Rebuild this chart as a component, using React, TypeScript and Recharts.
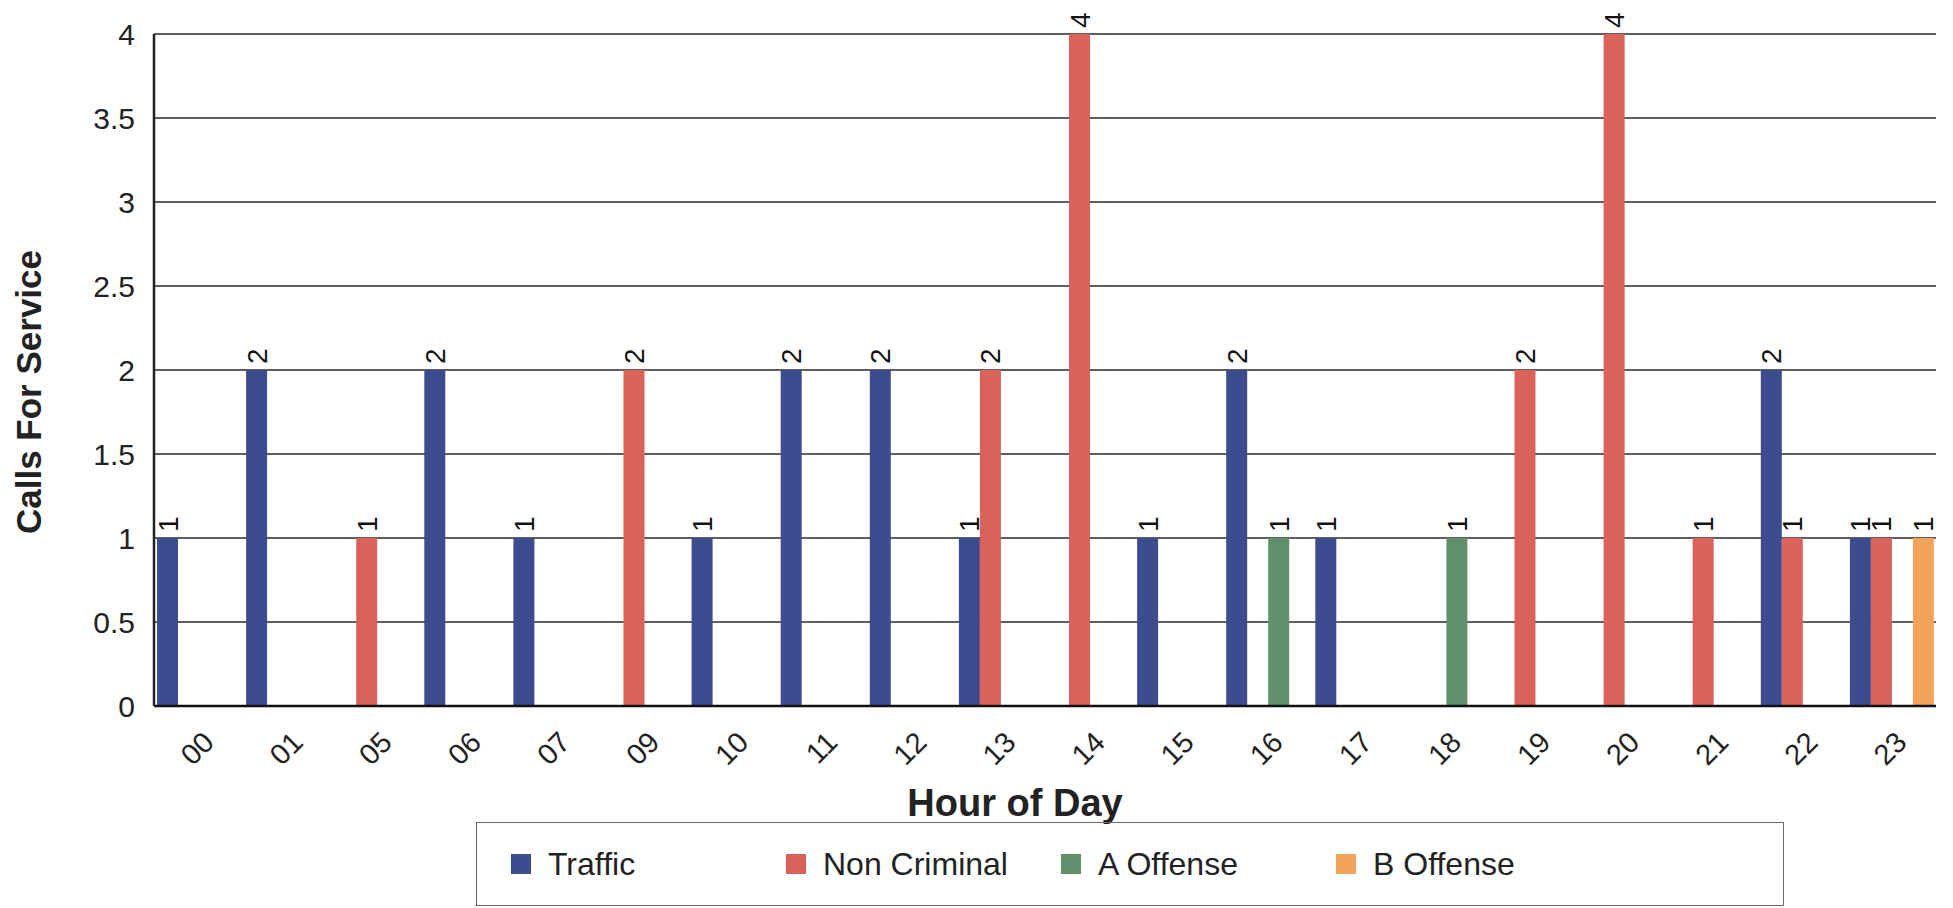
import React from 'react';
import {
  BarChart,
  Bar,
  XAxis,
  YAxis,
  CartesianGrid,
  LabelList,
  Label,
} from 'recharts';

// hours that had at least one call
const hours = ['00', '01', '05', '06', '07', '09', '10', '11', '12', '13', '14', '15', '16', '17', '18', '19', '20', '21', '22', '23'];

const traffic = [1, 2, null, 2, 1, null, 1, 2, 2, 1, null, 1, 2, 1, null, null, null, null, 2, 1];
const nonCriminal = [null, null, 1, null, null, 2, null, null, null, 2, 4, null, null, null, null, 2, 4, 1, 1, 1];
const aOffense = [null, null, null, null, null, null, null, null, null, null, null, null, 1, null, 1, null, null, null, null, null];
const bOffense = [null, null, null, null, null, null, null, null, null, null, null, null, null, null, null, null, null, null, null, 1];

const yTicks = [0, 0.5, 1, 1.5, 2, 2.5, 3, 3.5, 4];

const seriesNames = ['Traffic', 'Non Criminal', 'A Offense', 'B Offense'];
const seriesKeys = ['traffic', 'nonCriminal', 'aOffense', 'bOffense'];
const seriesColors = ['#3d4c8e', '#db625b', '#62906a', '#f2a35b'];

const data = hours.map((hour, i) => ({
  hour,
  traffic: traffic[i],
  nonCriminal: nonCriminal[i],
  aOffense: aOffense[i],
  bOffense: bOffense[i],
}));

const FONT = '"Liberation Sans", Arial, Helvetica, sans-serif';

const HourTick = (props: any) => {
  const { x, y, payload } = props;
  return (
    <g transform={`translate(${x + 17},${y + 38})`}>
      <text x={0} y={0} transform="rotate(-45)" textAnchor="end" fontSize={29} fill="#222">
        {payload.value}
      </text>
    </g>
  );
};

const ValueLabel = (props: any) => {
  const { value } = props;
  if (value === null || value === undefined) return null;
  const cx = Number(props.x) + Number(props.width) / 2;
  const ty = Number(props.y) - 6;
  return (
    <text
      x={cx}
      y={ty}
      dy="0.36em"
      transform={`rotate(-90, ${cx}, ${ty})`}
      textAnchor="start"
      fontSize={28}
      fill="#111"
    >
      {value}
    </text>
  );
};

const YTitle = (props: any) => {
  const vb = props.viewBox;
  const cx = vb.x + 28;
  const cy = vb.y + vb.height / 2 + 22;
  return (
    <text
      x={cx}
      y={cy}
      dy="0.36em"
      transform={`rotate(-90, ${cx}, ${cy})`}
      textAnchor="middle"
      fontSize={35}
      fontWeight="bold"
      fill="#222"
    >
      Calls For Service
    </text>
  );
};

const XTitle = (props: any) => {
  const vb = props.viewBox;
  return (
    <text
      x={vb.x + vb.width / 2 - 30}
      y={vb.y + 110}
      textAnchor="middle"
      fontSize={38}
      fontWeight="bold"
      fill="#222"
    >
      Hour of Day
    </text>
  );
};

export default function App() {
  return (
    <div
      style={{
        position: 'absolute',
        left: 0,
        top: 0,
        width: 1953,
        height: 908,
        background: '#fff',
        fontFamily: FONT,
      }}
    >
      <BarChart
        width={1953}
        height={908}
        data={data}
        margin={{ top: 34, right: 17, bottom: 0, left: 0 }}
        barGap={0}
        barSize={21}
      >
        <CartesianGrid vertical={false} stroke="#2a2a2a" strokeWidth={1.5} />
        <XAxis
          dataKey="hour"
          height={202}
          tickLine={false}
          tickSize={0}
          tickMargin={0}
          interval={0}
          axisLine={{ stroke: '#111', strokeWidth: 2.5 }}
          tick={<HourTick />}
        >
          <Label content={<XTitle />} />
        </XAxis>
        <YAxis
          width={154}
          domain={[0, 4]}
          ticks={yTicks}
          tickLine={false}
          tickSize={0}
          tickMargin={19}
          axisLine={{ stroke: '#222', strokeWidth: 2.5 }}
          tick={{ fontSize: 30, fill: '#222' }}
        >
          <Label content={<YTitle />} />
        </YAxis>
        {seriesKeys.map((key, i) => (
          <Bar key={key} dataKey={key} name={seriesNames[i]} fill={seriesColors[i]} isAnimationActive={false}>
            <LabelList dataKey={key} content={<ValueLabel />} />
          </Bar>
        ))}
      </BarChart>

      <div
        style={{
          position: 'absolute',
          left: 476,
          top: 822,
          width: 1308,
          height: 84,
          boxSizing: 'border-box',
          border: '1.5px solid #666',
          display: 'flex',
          alignItems: 'center',
          paddingLeft: 34,
        }}
      >
        {seriesNames.map((name, i) => (
          <div key={name} style={{ width: 275, display: 'flex', alignItems: 'center' }}>
            <span
              style={{
                display: 'inline-block',
                width: 20,
                height: 20,
                background: seriesColors[i],
                marginRight: 17,
              }}
            />
            <span style={{ fontSize: 32, color: '#222' }}>{name}</span>
          </div>
        ))}
      </div>
    </div>
  );
}
